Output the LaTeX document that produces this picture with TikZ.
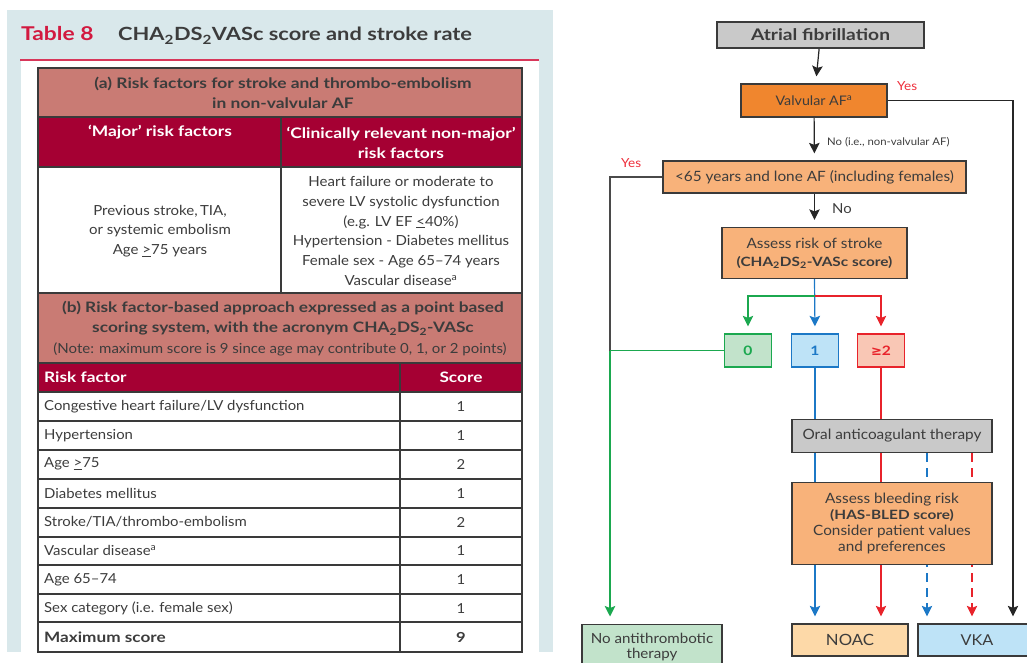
\documentclass[tikz,border=0pt]{standalone}
\usepackage{fontspec}
\setmainfont{Lato}[UprightFeatures={FakeStretch=1.08}, BoldFeatures={FakeStretch=1.2}]
\newfontfamily\symfont{DejaVu Sans}
\usetikzlibrary{arrows.meta}

% palette
\definecolor{panelblue}{HTML}{D9E8EB}
\definecolor{titlered}{HTML}{D2193F}
\definecolor{rulered}{HTML}{D8375A}
\definecolor{salmon}{HTML}{C97B74}
\definecolor{crimson}{HTML}{A50033}
\definecolor{gridgray}{HTML}{3A3A3A}
\definecolor{textgray}{HTML}{3C3C3C}
\definecolor{boxgray}{HTML}{C9C9C9}
\definecolor{orangeA}{HTML}{F0862E}
\definecolor{orangeB}{HTML}{F8B27A}
\definecolor{noacfill}{HTML}{FDD9A8}
\definecolor{vkafill}{HTML}{BEE3F7}
\definecolor{greenfill}{HTML}{C2E3CB}
\definecolor{pinkfill}{HTML}{F9C7B5}
\definecolor{lgreen}{HTML}{1BA84F}
\definecolor{lblue}{HTML}{1C78C6}
\definecolor{lred}{HTML}{E8232B}
\definecolor{yesred}{HTML}{EE2F3C}
\definecolor{linkgray}{HTML}{4A4A4A}

\pgfdeclarelayer{edges}
\pgfsetlayers{edges,main}

\newcommand\flowbold[1]{{\fontsize{12.8}{16}\selectfont\bfseries #1}}

\tikzset{
  cell/.style={text=textgray, inner sep=0pt, align=center,
    font=\fontsize{13.9}{19.7}\selectfont},
  hdcell/.style={inner sep=0pt, align=center,
    font=\bfseries\fontsize{14.5}{20}\selectfont},
  rowtext/.style={text=textgray, inner sep=0pt, anchor=west,
    font=\fontsize{13.8}{15}\selectfont},
  scoretext/.style={text=textgray, inner sep=0pt,
    font=\fontsize{13.8}{15}\selectfont},
  grid/.style={draw=gridgray, line width=1.4pt},
  fbox/.style={draw=gridgray, line width=1.3pt, inner sep=2pt, text=textgray,
    align=center, font=\fontsize{14.2}{16}\selectfont},
  scorebox/.style={line width=1.3pt, minimum width=47pt, minimum height=33pt,
    inner sep=0pt, font=\bfseries\fontsize{13}{15}\selectfont},
  arr/.style={-{Stealth[length=10.5pt,width=10.5pt,inset=2pt]}, shorten >=7pt},
  link/.style={line width=1.2pt},
  yes/.style={text=yesred, inner sep=0pt, font=\fontsize{12.5}{14}\selectfont},
}

\begin{document}
\begin{tikzpicture}[x=1pt,y=-1pt]
\useasboundingbox (0,0) rectangle (1027,663);

% ---------- Table 8: panel and title ----------
\fill[panelblue] (7,10) rectangle (553,652);
\fill[white] (21,61) rectangle (539,652);
\draw[rulered, line width=1.3pt] (20,60) -- (539,60);
\node[anchor=base west, inner sep=0pt, text=titlered,
  font=\bfseries\fontsize{19}{22}\selectfont] (tnum) at (21,41) {Table 8};
\node[anchor=base west, inner sep=0pt, text=textgray,
  font=\bfseries\fontsize{18.2}{22}\selectfont] (ttitle) at (118,41)
  {CHA\textsubscript{2}DS\textsubscript{2}VASc score and stroke rate};

% cell fills
\fill[salmon]  (38,68)  rectangle (522,117);
\fill[crimson] (38,117) rectangle (522,167);
\fill[white]   (38,167) rectangle (522,293);
\fill[salmon]  (38,293) rectangle (522,363);
\fill[crimson] (38,363) rectangle (522,392);
\fill[white]   (38,392) rectangle (522,652);

% grid lines
\draw[grid] (38,68) rectangle (522,652);
\foreach \yy in {117,167,293,363,392,421,450,479,508,537,565,594}
  \draw[grid] (38,\yy) -- (522,\yy);
\draw[gridgray, line width=2.4pt] (38,622) -- (522,622);
\draw[grid] (281,117) -- (281,293);
\draw[grid] (400,363) -- (400,652);

% part (a)
\node[hdcell, text=textgray] (ahead) at (283,92.5)
  {(a) Risk factors for stroke and thrombo-embolism\\in non-valvular AF};
\node[hdcell, text=white] (amajor) at (160,132.5) {‘Major’ risk factors};
\node[hdcell, text=white] (aminor) at (401,142.5)
  {‘Clinically relevant non-major’\\risk factors};
\node[cell] (majlist) at (160,231)
  {Previous stroke,\,TIA,\\or systemic embolism\\Age \underline{>}75 years};
\node[cell] (minlist) at (401,231)
  {Heart failure or moderate to\\severe LV systolic dysfunction\\(e.g. LV EF \underline{<}40\%)\\
   Hypertension - Diabetes mellitus\\Female sex - Age 65–74 years\\Vascular disease\textsuperscript{a}};

% part (b)
\node[hdcell, text=textgray, font=\bfseries\fontsize{14.4}{20}\selectfont] (bhead) at (283,318.5)
  {(b) Risk factor-based approach expressed as a point based\\
   scoring system, with the acronym CHA\textsubscript{2}DS\textsubscript{2}-VASc};
\node[cell, font=\fontsize{13.9}{15}\selectfont] (bnote) at (280,349.5)
  {(Note: maximum score is 9 since age may contribute 0, 1, or 2 points)};
\node[rowtext, text=white, font=\bfseries\fontsize{14.4}{16}\selectfont] (hfactor) at (44,377.5) {Risk factor};
\node[scoretext, text=white, font=\bfseries\fontsize{14.4}{16}\selectfont] (hscore) at (461,377.5) {Score};

\foreach \rf/\sc [count=\i] in {{Congestive heart failure/LV dysfunction}/1,
    Hypertension/1, {Age \underline{>}75}/2, Diabetes mellitus/1,
    {Stroke/TIA/thrombo-embolism}/2, {Vascular disease\textsuperscript{a}}/1,
    Age 65–74/1, {Sex category (i.e. female sex)}/1} {
  \node[rowtext] (rf\i) at (44,{377.5+28.9*\i}) {\rf};
  \node[scoretext] (sc\i) at (461,{377.5+28.9*\i}) {\sc};
}
\node[rowtext, font=\bfseries\fontsize{14.3}{16}\selectfont] (rfmax) at (44,637.5) {Maximum score};
\node[scoretext, font=\bfseries\fontsize{13.8}{16}\selectfont] (scmax) at (461,637.5) {9};

% ---------- Flow chart ----------
\node[fbox, fill=boxgray, minimum width=207pt, minimum height=26pt,
  font=\bfseries\fontsize{16}{18}\selectfont] (af) at (820.5,35) {Atrial fibrillation};
\node[fbox, fill=orangeA, minimum width=146pt, minimum height=33pt,
  font=\fontsize{13.2}{15}\selectfont] (valv) at (814,100.5) {Valvular AF\textsuperscript{a}};
\node[fbox, fill=orangeB, minimum width=303pt, minimum height=32pt] (lone) at (814.5,177)
  {<65 years and lone AF (including females)};
\node[fbox, fill=orangeB, minimum width=185pt, minimum height=51pt,
  font=\fontsize{14.2}{18}\selectfont] (stroke) at (814.5,253)
  {Assess risk of stroke\\\flowbold{(CHA\textsubscript{2}DS\textsubscript{2}-VASc score)}};
\node[scorebox, draw=lgreen, fill=greenfill, text=lgreen] (s0) at (748,350.5) {0};
\node[scorebox, draw=lblue, fill=vkafill, text=lblue] (s1) at (815,350.5) {1};
\node[scorebox, draw=lred, fill=pinkfill, text=lred] (s2) at (881,350.5) {{\symfont\bfseries ≥}2};
\node[fbox, fill=boxgray, minimum width=200pt, minimum height=33pt] (oac) at (892,436)
  {Oral anticoagulant therapy};
\node[fbox, fill=orangeB, minimum width=200pt, minimum height=82pt] (bleed) at (892,523.5)
  {Assess bleeding risk\\\flowbold{(HAS-BLED score)}\\Consider patient values\\and preferences};
\node[fbox, fill=greenfill, minimum width=140pt, minimum height=45pt, anchor=north,
  font=\fontsize{14}{15}\selectfont] (noanti) at (652,623.5)
  {No antithrombotic\\therapy};
\node[fbox, fill=noacfill, minimum width=116pt, minimum height=32pt,
  font=\fontsize{15.5}{17}\selectfont] (noac) at (850,640) {NOAC};
\node[fbox, fill=vkafill, minimum width=118pt, minimum height=32pt,
  font=\fontsize{15}{17}\selectfont] (vka) at (977,640) {VKA};

% branch labels
\node[yes, anchor=west] (yes1) at (897,86) {Yes};
\node[yes, anchor=west] (yes2) at (621,163) {Yes};
\node[anchor=west, inner sep=0pt, text=textgray, font=\fontsize{10.5}{12}\selectfont] (nolab1) at (827,142)
  {No (i.e., non-valvular AF)};
\node[anchor=west, inner sep=0pt, text=textgray, font=\fontsize{13.8}{15}\selectfont] (nolab2) at (832,209) {No};

% junction points
\coordinate (jleft) at (610,350.5);
\coordinate (jsplit) at (815,296);

\begin{pgfonlayer}{edges}
  % main spine
  \draw[link, arr, black!85] (af) -- (valv);
  \draw[link, arr, black!85] (valv) -- (lone);
  \draw[link, arr, black!85] (lone) -- (stroke);
  \draw[link, arr, black!85] (valv.east) -| ([xshift=36pt]vka.north);
  % low-risk branch
  \draw[link, linkgray] (lone.west) -| (jleft);
  \draw[link, lgreen] (s0.west) -- (jleft);
  \draw[link, arr, lgreen] (jleft) -- (jleft |- noanti.north);
  % score split
  \draw[link, lblue, arr] (stroke.south) -- (s1.north);
  \draw[link, lgreen, arr] (jsplit) -| (s0.north);
  \draw[link, lred, arr] (jsplit) -| (s2.north);
  % anticoagulation
  \draw[link, lblue] (s1.south) -- (s1.south |- oac.north);
  \draw[link, lred] (s2.south) -- (s2.south |- oac.north);
  \draw[link, lblue] (s1.south |- oac.south) -- (s1.south |- bleed.north);
  \draw[link, lred] (s2.south |- oac.south) -- (s2.south |- bleed.north);
  \draw[link, lblue, arr] (s1.south |- bleed.south) -- (s1.south |- noac.north);
  \draw[link, lred, arr] (s2.south |- bleed.south) -- (s2.south |- noac.north);
  \draw[link, lblue, arr, dash pattern=on 9pt off 6pt] ([xshift=35pt]oac.south) -- ([xshift=-50pt]vka.north);
  \draw[link, lred, arr, dash pattern=on 9pt off 6pt] ([xshift=80pt]oac.south) -- ([xshift=-5pt]vka.north);
\end{pgfonlayer}
\end{tikzpicture}
\end{document}
